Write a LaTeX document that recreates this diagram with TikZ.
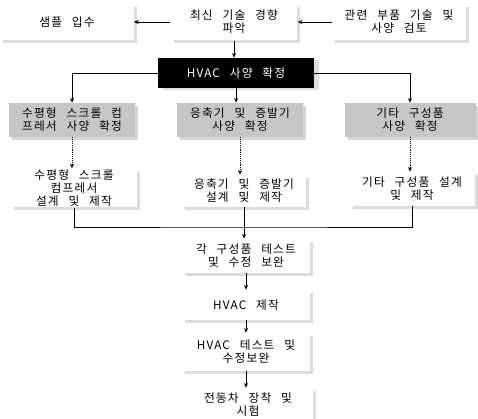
\documentclass[tikz,border=0pt]{standalone}
\usepackage{fontspec}
\usepackage{tikz}
\usetikzlibrary{arrows.meta,shadows}
\newfontfamily\krfont{Noto Sans CJK KR}[LetterSpace=10, WordSpace=2.6]

\begin{document}
\begin{tikzpicture}[x=0.03cm, y=-0.03cm, >={Stealth[length=4pt,width=3.5pt]}, line width=0.6pt,
    every node/.style={font=\krfont\fontsize{10}{11}\selectfont, align=center, inner sep=1pt},
    whitebox/.style={fill=white, drop shadow={shadow xshift=0.09cm, shadow yshift=-0.09cm, fill=gray!55}},
    graybox/.style={fill=gray!45, drop shadow={shadow xshift=0.09cm, shadow yshift=-0.09cm, fill=gray!65}},
    blackbox/.style={fill=black, text=white, drop shadow={shadow xshift=0.15cm, shadow yshift=-0.06cm, fill=gray!50}},
    dots/.style={->, densely dotted}]

    \useasboundingbox (0,0) rectangle (478,418);

    % =========================================================================
    % TOP ROW: Survey
    % =========================================================================
    \node[whitebox, minimum width=4.0cm, minimum height=1.1cm] (Sample) at (67,22) {샘플 입수};
    \node[whitebox, minimum width=3.8cm, minimum height=1.1cm] (Trend) at (234,22) {최신 기술 경향\\파악};
    \node[whitebox, minimum width=4.0cm, minimum height=1.1cm] (Review) at (399,22) {관련 부품 기술 및\\사양 검토};

    \draw[->] (Trend.west) -- (Sample.east);
    \draw[->] (Review.west) -- (Trend.east);

    % --- Spec decision ---
    \node[blackbox, minimum width=4.68cm, minimum height=0.9cm] (Spec) at (236,73) {HVAC 사양 확정};
    \draw[->] (Trend.south) -- (Trend.south |- Spec.north);

    % =========================================================================
    % COMPONENT SPECS (gray)
    % =========================================================================
    \node[graybox, minimum width=3.75cm, minimum height=1.02cm] (SpecComp) at (72,120) {수평형 스크롤 컴\\프레서 사양 확정};
    \node[graybox, minimum width=3.78cm, minimum height=1.02cm] (SpecCond) at (240,120) {응축기 및 증발기\\사양 확정};
    \node[graybox, minimum width=3.93cm, minimum height=1.02cm] (SpecOther) at (410,120) {기타 구성품\\사양 확정};

    \draw[->] (Spec.west) -| (SpecComp.north);
    \draw[->] (Spec.south) -- (Spec.south |- SpecCond.north);
    \draw[->] (Spec.east) -| (SpecOther.north);

    % =========================================================================
    % COMPONENT DESIGN
    % =========================================================================
    \node[whitebox, minimum width=3.75cm, minimum height=1.02cm] (MakeComp) at (74,188) {수평형 스크롤\\컴프레서\\설계 및 제작};
    \node[whitebox, minimum width=3.72cm, minimum height=0.96cm] (MakeCond) at (244,191) {응축기 및 증발기\\설계 및 제작};
    \node[whitebox, minimum width=3.75cm, minimum height=1.02cm] (MakeOther) at (412,189) {기타 구성품 설계\\및 제작};

    \draw[dots] (SpecComp.south) -- (SpecComp.south |- MakeComp.north);
    \draw[dots] (SpecCond.south) -- (SpecCond.south |- MakeCond.north);
    \draw[dots] (SpecOther.south) -- (SpecOther.south |- MakeOther.north);

    % --- Merge ---
    \coordinate (Join) at (244,227);
    \draw (MakeComp.south) |- (Join) -| (MakeOther.south);

    % =========================================================================
    % ASSEMBLY AND TEST
    % =========================================================================
    \node[whitebox, minimum width=3.84cm, minimum height=1.02cm] (TestComp) at (246,256) {각 구성품 테스트\\및 수정 보완};
    \node[whitebox, minimum width=3.84cm, minimum height=0.9cm] (Build) at (246,305) {HVAC 제작};
    \node[whitebox, minimum width=3.84cm, minimum height=1.14cm] (TestHvac) at (246,352) {HVAC 테스트 및\\수정보완};
    \node[whitebox, minimum width=3.9cm, minimum height=1.02cm] (Install) at (248,405) {전동차 장착 및\\시험};

    \draw[->] (MakeCond.south) -- (MakeCond.south |- TestComp.north);
    \draw[->] (TestComp.south) -- (TestComp.south |- Build.north);
    \draw[->] (Build.south) -- (Build.south |- TestHvac.north);
    \draw[->] (TestHvac.south) -- (TestHvac.south |- Install.north);

\end{tikzpicture}
\end{document}
